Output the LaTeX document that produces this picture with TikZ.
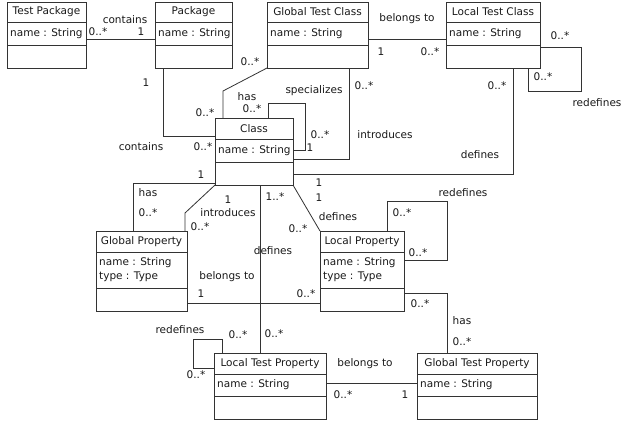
\documentclass[tikz,border=0pt]{standalone}
\usepackage{fontspec}
\setmainfont{DejaVu Sans}
\usepackage{tikz}
\usetikzlibrary{positioning, calc}
\colorlet{umlLine}{black!80}
\colorlet{umlText}{black!90}

\tikzset{
  classbox/.style={draw=umlLine, line width=0.8pt, fill=white, anchor=north west,
    inner sep=0pt, outer sep=0pt},
  classtitle/.style={font=\fontsize{10.5}{14}\selectfont, text=umlText, inner sep=0pt},
  classattr/.style={font=\fontsize{10.5}{14}\selectfont, text=umlText, anchor=west,
    align=left, inner xsep=3pt, inner ysep=0pt},
  assoc/.style={draw=umlLine, line width=0.8pt},
  lbl/.style={font=\fontsize{10.5}{14}\selectfont, text=umlText, inner sep=0pt}
}

% name, position, width, title h, attr h, op h, title, attributes
\newcommand{\umlclass}[8]{%
  \node[classbox, minimum width=#3pt, minimum height={#4pt+#5pt+#6pt}] (#1) at #2 {};
  \draw[assoc] ([yshift=-#4pt]#1.north west) -- ([yshift=-#4pt]#1.north east);
  \draw[assoc] ([yshift={-(#4pt+#5pt)}]#1.north west) -- ([yshift={-(#4pt+#5pt)}]#1.north east);
  \node[classtitle] (#1-t) at ([yshift={-#4pt/2}]#1.north) {#7};
  \node[classattr] (#1-a) at ([yshift={-(#4pt+#5pt/2)}]#1.north west) {#8};
}

\begin{document}
\begin{tikzpicture}[x=1pt, y=-1pt]
  \useasboundingbox[fill=white] (0,0) rectangle (622,426);

  % classes
  \umlclass{tpkg}{(7,2)}{79}{20}{23}{23}{Test Package}{name : String}
  \umlclass{pkg}{(155,2)}{77}{20}{23}{23}{Package}{name : String}
  \umlclass{gtc}{(267,2)}{101}{20}{23}{23}{Global Test Class}{name : String}
  \umlclass{ltc}{(446,2)}{94}{20}{23}{23}{Local Test Class}{name : String}
  \umlclass{cls}{(215,118)}{78}{21}{23}{23}{Class}{name : String}
  \umlclass{gprop}{(96,231)}{91}{21}{36}{23}{Global Property}{name : String\\type : Type}
  \umlclass{lprop}{(320,231)}{84}{21}{36}{23}{Local Property}{name : String\\type : Type}
  \umlclass{ltprop}{(214,353)}{112}{21}{22}{23}{Local Test Property}{name : String}
  \umlclass{gtprop}{(417,353)}{120}{21}{22}{23}{Global Test Property}{name : String}

  % Test Package -- Package
  \draw[assoc] ([yshift=-37pt]tpkg.north east) -- ([yshift=-37pt]pkg.north west);
  \node[lbl] (tpkg-pkg) at (125,20) {contains};
  \node[lbl] (tpkg-pkg-s) at (98,32) {0..*};
  \node[lbl] (tpkg-pkg-t) at (141,32) {1};

  % Package -- Class
  \draw[assoc] ([xshift=8pt]pkg.south west) |- ([yshift=-18pt]cls.north west);
  \node[lbl] (pkg-cls) at (141,147) {contains};
  \node[lbl] (pkg-cls-s) at (146,83) {1};
  \node[lbl] (pkg-cls-t) at (203,147) {0..*};

  % Global Test Class -- Class
  \draw[assoc] (gtc.south west) -- ([xshift=8pt,yshift=27pt]cls.north west)
    -- ([xshift=8pt]cls.north west);
  \node[lbl] (gtc-cls) at (247,97) {has};
  \node[lbl] (gtc-cls-s) at (250,62) {0..*};
  \node[lbl] (gtc-cls-t) at (205,113) {0..*};

  % Class specializes Class
  \draw[assoc] ([xshift=53pt]cls.north west) -- ++(0,-15)
    -| ([xshift=12pt,yshift=-32pt]cls.north east) -- ([yshift=-32pt]cls.north east);
  \node[lbl] (cls-spec) at (314,91) {specializes};
  \node[lbl] (cls-spec-s) at (252,109) {0..*};
  \node[lbl] (cls-spec-t) at (320,135) {0..*};

  % Global Test Class introduces Class
  \draw[assoc] ([xshift=-19pt]gtc.south east) |- ([yshift=-41pt]cls.north east);
  \node[lbl] (gtc-intro) at (385,135) {introduces};
  \node[lbl] (gtc-intro-s) at (364,86) {0..*};
  \node[lbl] (gtc-intro-t) at (310,148) {1};

  % Local Test Class defines Class
  \draw[assoc] ([xshift=-27pt]ltc.south east) |- ([yshift=-56pt]cls.north east);
  \node[lbl] (ltc-def) at (480,155) {defines};
  \node[lbl] (ltc-def-s) at (497,86) {0..*};
  \node[lbl] (ltc-def-t) at (319,183) {1};

  % Local Test Class redefines
  \draw[assoc] ([yshift=-45pt]ltc.north east) -| ([xshift=41pt,yshift=-23pt]ltc.south east)
    -| ([xshift=-12pt]ltc.south east);
  \node[lbl] (ltc-redef) at (597,103) {redefines};
  \node[lbl] (ltc-redef-s) at (560,36) {0..*};
  \node[lbl] (ltc-redef-t) at (543,77) {0..*};

  % Global Test Class -- Local Test Class
  \draw[assoc] ([yshift=-37pt]gtc.north east) -- ([yshift=-37pt]ltc.north west);
  \node[lbl] (gtc-ltc) at (407,19) {belongs to};
  \node[lbl] (gtc-ltc-s) at (381,52) {1};
  \node[lbl] (gtc-ltc-t) at (430,52) {0..*};

  % Class has Global Property
  \draw[assoc] ([yshift=2pt]cls.south west) -| ([xshift=37pt]gprop.north west);
  \node[lbl] (cls-gp) at (148,193) {has};
  \node[lbl] (cls-gp-s) at (201,175) {1};
  \node[lbl] (cls-gp-t) at (148,213) {0..*};

  % Class introduces Global Property
  \draw[assoc] (cls.south west) -- ([xshift=-2pt,yshift=18pt]gprop.north east)
    -- ([xshift=-2pt]gprop.north east);
  \node[lbl] (cls-intro) at (228,213) {introduces};
  \node[lbl] (cls-intro-s) at (228,200) {1};
  \node[lbl] (cls-intro-t) at (200,227) {0..*};

  % Class defines Local Test Property
  \draw[assoc] ([xshift=45pt]cls.south west) -- ([xshift=46pt]ltprop.north west);
  \node[lbl] (cls-ltp) at (273,251) {defines};
  \node[lbl] (cls-ltp-s) at (275,197) {1..*};
  \node[lbl] (cls-ltp-t) at (274,334) {0..*};

  % Class defines Local Property
  \draw[assoc] (cls.south east) -- (lprop.north west);
  \node[lbl] (cls-lp) at (338,217) {defines};
  \node[lbl] (cls-lp-s) at (319,198) {1};
  \node[lbl] (cls-lp-t) at (298,229) {0..*};

  % Global Property -- Local Property
  \draw[assoc] ([yshift=8pt]gprop.south east) -- ([yshift=8pt]lprop.south west);
  \node[lbl] (gp-lp) at (227,277) {belongs to};
  \node[lbl] (gp-lp-s) at (201,294) {1};
  \node[lbl] (gp-lp-t) at (306,294) {0..*};

  % Local Property redefines
  \draw[assoc] ([xshift=67pt]lprop.north west) -- ++(0,-30)
    -| ([xshift=43pt,yshift=-29pt]lprop.north east) -- ([yshift=-29pt]lprop.north east);
  \node[lbl] (lp-redef) at (463,193) {redefines};
  \node[lbl] (lp-redef-s) at (402,213) {0..*};
  \node[lbl] (lp-redef-t) at (418,253) {0..*};

  % Local Property has Global Test Property
  \draw[assoc] ([yshift=-62pt]lprop.north east) -| ([xshift=30pt]gtprop.north west);
  \node[lbl] (lp-gtp) at (462,321) {has};
  \node[lbl] (lp-gtp-s) at (420,304) {0..*};
  \node[lbl] (lp-gtp-t) at (462,342) {0..*};

  % Local Test Property redefines
  \draw[assoc] ([xshift=8pt]ltprop.north west) -- ++(0,-14)
    -| ([xshift=-21pt,yshift=-15pt]ltprop.north west) -- ([yshift=-15pt]ltprop.north west);
  \node[lbl] (ltp-redef) at (180,330) {redefines};
  \node[lbl] (ltp-redef-s) at (238,335) {0..*};
  \node[lbl] (ltp-redef-t) at (196,375) {0..*};

  % Local Test Property -- Global Test Property
  \draw[assoc] ([yshift=-30pt]ltprop.north east) -- ([yshift=-30pt]gtprop.north west);
  \node[lbl] (ltp-gtp) at (365,364) {belongs to};
  \node[lbl] (ltp-gtp-s) at (343,395) {0..*};
  \node[lbl] (ltp-gtp-t) at (405,395) {1};
\end{tikzpicture}
\end{document}
